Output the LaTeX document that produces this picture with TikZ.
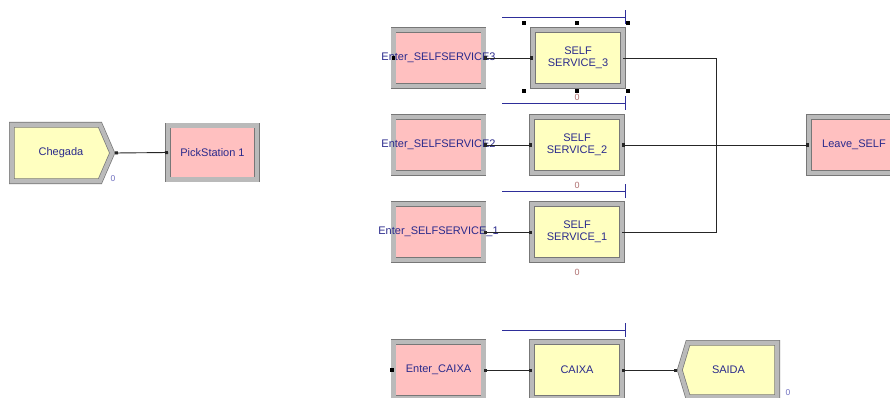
\documentclass[tikz,border=0pt]{standalone}
\usepackage{fontspec}
\setmainfont{Liberation Sans}
\usetikzlibrary{arrows.meta}
\definecolor{procfill}{HTML}{FFFFC0}
\definecolor{stafill}{HTML}{FFC0C0}
\definecolor{bevel}{HTML}{BABABA}
\definecolor{edge}{HTML}{777777}
\definecolor{txt}{HTML}{2A2A8C}
\definecolor{qline}{HTML}{2E2E9A}
\definecolor{zero}{HTML}{B07070}
\definecolor{zerob}{HTML}{7070C0}
\tikzset{
  bev/.style={draw=edge, line width=0.7pt, double=bevel, double distance=4.2pt, line join=miter},
  module/.style={bev, inner sep=0pt, outer sep=0pt, text=txt,
    font=\fontsize{11}{12.5}\selectfont, align=center},
  boxmod/.style={module, rectangle, minimum width=90pt, minimum height=56pt},
  proc/.style={boxmod, fill=procfill},
  sta/.style={boxmod, fill=stafill},
  lbl/.style={text=txt, font=\fontsize{11}{12.5}\selectfont, inner sep=0pt},
  conn/.style={draw=black!85, line width=0.9pt,
    {Square[length=3pt,width=3pt]}-{Square[length=3pt,width=3pt]}},
  qbar/.style={draw=qline, line width=0.9pt},
  handle/.style={fill=black, minimum size=4pt, inner sep=0pt, outer sep=0pt, rectangle},
  zlab/.style={text=zero, font=\fontsize{9}{10}\selectfont, inner sep=0pt},
  zlabb/.style={text=zerob, font=\fontsize{8.5}{10}\selectfont, inner sep=0pt},
  dot/.style={fill=black, minimum size=3.5pt, inner sep=0pt, rectangle}
}
\begin{document}
\begin{tikzpicture}[x=1pt,y=-1pt]
\useasboundingbox (0,0) rectangle (890,398);
\clip (0,0) rectangle (890,398);
\fill[white] (0,0) rectangle (890,398);

% Left part
\draw[bev, fill=procfill] (11.8,124.8) -- (100,124.8) -- (112.2,153) -- (100,181.2) -- (11.8,181.2) -- cycle;
\node[lbl] (cheg) at (61,153) {Chegada};
\coordinate (chegout) at (115,153);
\node[sta, minimum width=89pt, minimum height=54pt] (pick) at (212.5,152.5) {PickStation 1};
\node[zlabb] (z0) at (113,179) {0};
\draw[conn] (chegout) -- (pick.west);

% Queue bars
\foreach \y/\n in {17/q3,103/q2,191/q1,330/q0}{
  \coordinate (\n a) at (502,\y);
  \coordinate (\n b) at (625,\y);
  \draw[qbar] (\n a) -- (\n b);
  \draw[qbar] ([yshift=-7pt]\n b) -- ([yshift=7pt]\n b);
}

% Enter stations
\node[sta] (e3) at (438.5,58) {\makebox[0pt]{Enter\_SELFSERVICE3}};
\node[sta] (e2) at (438.5,145) {\makebox[0pt]{Enter\_SELFSERVICE2}};
\node[sta] (e1) at (438.5,232) {\makebox[0pt]{Enter\_SELFSERVICE\_1}};
\node[sta] (ec) at (438.5,370) {Enter\_CAIXA};
\node[dot] (d3) at (e3.west) {};
\node[dot] (dc) at ([xshift=-1.5pt]ec.west) {};

% Processes
\node[proc] (s3) at (578,58) {SELF\\SERVICE\_3};
\node[proc] (s2) at (577,145) {SELF\\SERVICE\_2};
\node[proc] (s1) at (577,232) {SELF\\SERVICE\_1};
\node[proc] (cx) at (577,370) {CAIXA};

\node[zlab] (z3) at (577,97) {0};
\node[zlab] (z2) at (577,185) {0};
\node[zlab] (z1) at (577,272) {0};

% selection handles
\foreach \p/\n in {{(524,23)}/h1,{(577,23)}/h2,{(628,23)}/h3,{(524,91)}/h4,{(577,91)}/h5,{(628,91)}/h6}{
  \node[handle] (\n) at \p {};
}

% Leave and Saida
\node[sta] (lv) at (854,145) {Leave\_SELF};
\draw[bev, fill=procfill] (688,342.8) -- (777.2,342.8) -- (777.2,397.2) -- (688,397.2) -- (679.8,370) -- cycle;
\node[lbl] (sd) at (728.5,370) {SAIDA};
\coordinate (sdin) at (677,370);
\node[zlabb] (z4) at (788,393) {0};

% Connectors
\draw[conn] (e3.east) -- (s3.west);
\draw[conn] (e2.east) -- (s2.west);
\draw[conn] (e1.east) -- (s1.west);
\draw[conn] (ec.east) -- (cx.west);
\draw[conn] (cx.east) -- (sdin);
\coordinate (j) at (716,145);
\draw[conn] (s2.east) -- (lv.west);
\draw[conn, -] (s3.east) -| (j);
\draw[conn, -] (s1.east) -| (j);
\end{tikzpicture}
\end{document}
